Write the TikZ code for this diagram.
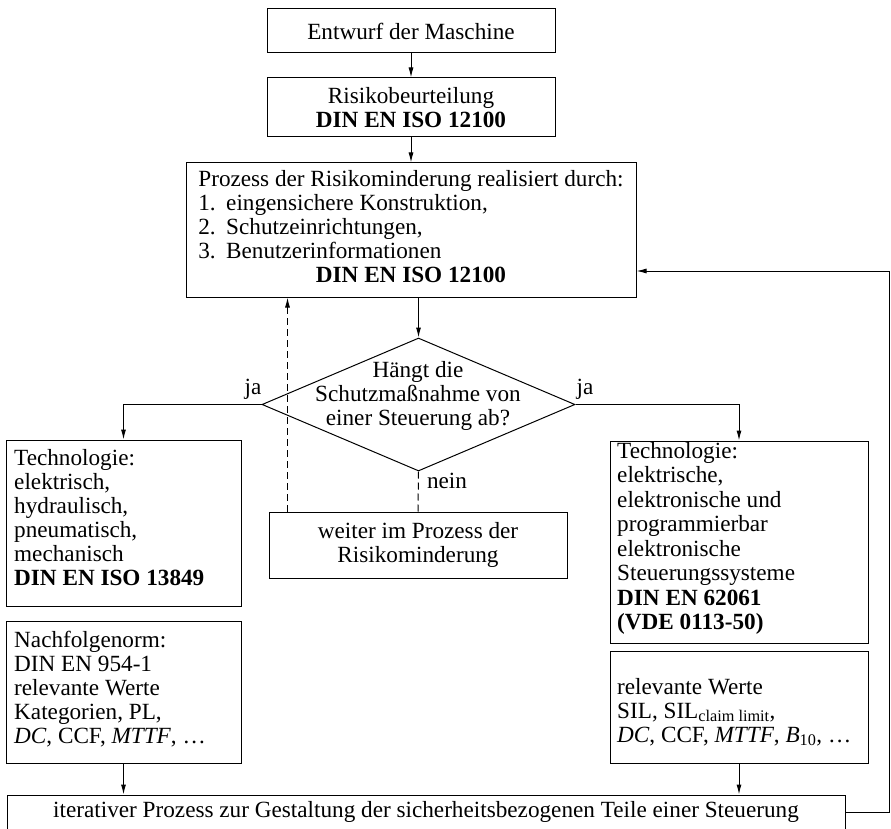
\documentclass[tikz,border=0pt]{standalone}
\usepackage{fontspec}
\setmainfont{Liberation Serif}
\usetikzlibrary{arrows.meta,shapes.geometric,calc}
\newcommand{\fsz}{\fontsize{23.2}{24}\selectfont}
\begin{document}
\begin{tikzpicture}[x=1pt,y=-1pt,
  box/.style={draw, line width=1pt, inner sep=0pt, font=\fsz, align=center},
  txt/.style={inner sep=0pt, font=\fsz, align=left},
  lbl/.style={inner sep=0pt, font=\fsz},
  arr/.style={-{Latex[length=10pt,width=5pt]}, line width=1pt},
  ln/.style={line width=1pt},
  dsh/.style={dash pattern=on 7pt off 4pt}]
\useasboundingbox (0,0) rectangle (891,829);

% boxes
\node[box, minimum width=288pt, minimum height=44pt] (E) at (411,31) {Entwurf der Maschine};
\node[box, minimum width=288pt, minimum height=59pt] (R) at (411,107.5) {Risikobeurteilung\\\textbf{DIN EN ISO 12100}};
\node[box, minimum width=450pt, minimum height=134pt] (P) at (411,230) {\begin{tabular}{@{}l@{}}Prozess der Risikominderung realisiert durch:\\1.\hspace{0.45em}eingensichere Konstruktion,\\2.\hspace{0.45em}Schutzeinrichtungen,\\3.\hspace{0.45em}Benutzerinformationen\\\multicolumn{1}{@{}c@{}}{\textbf{DIN EN ISO 12100}}\end{tabular}};
\node[draw, line width=1pt, diamond, minimum width=313pt, minimum height=133pt, inner sep=0pt] (D) at (418.5,404.5) {};
\node[txt, align=center] (Dt) at (418,396) {Hängt die\\Schutzmaßnahme von\\einer Steuerung ab?};
\node[box, minimum width=235pt, minimum height=166pt] (L1) at (123.5,523) {};
\node[txt, anchor=west] (L1t) at (14,517.5) {Technologie:\\elektrisch,\\hydraulisch,\\pneumatisch,\\mechanisch\\\textbf{DIN EN ISO 13849}};
\node[box, minimum width=298pt, minimum height=66pt] (W) at (418,545) {weiter im Prozess der\\Risikominderung};
\node[box, minimum width=258pt, minimum height=202pt] (R1) at (739,542) {};
\node[txt, anchor=west, font=\fontsize{23.2}{24.5}\selectfont] (R1t) at (617,538.5) {Technologie:\\elektrische,\\elektronische und\\programmierbar\\elektronische\\Steuerungssysteme\\\textbf{DIN EN 62061}\\\textbf{(VDE 0113-50)}};
\node[box, minimum width=235pt, minimum height=142pt] (L2) at (123.5,692) {};
\node[txt, anchor=west] (L2t) at (14,689.5) {Nachfolgenorm:\\DIN EN 954-1\\relevante Werte\\Kategorien, PL,\\\textit{DC}, CCF, \textit{MTTF}, …};
\node[box, minimum width=258pt, minimum height=112pt] (R2) at (739,707) {};
\node[txt, anchor=west] (R2t) at (617,712) {relevante Werte\\SIL, SIL\textsubscript{claim limit},\\\textit{DC}, CCF, \textit{MTTF}, \textit{B}\textsubscript{10}, …};
\node[box, minimum width=838pt, minimum height=34pt] (B) at (426,812) {iterativer Prozess zur Gestaltung der sicherheitsbezogenen Teile einer Steuerung};

% labels
\node[lbl, anchor=base] (ja1) at (253,394) {ja};
\node[lbl, anchor=base] (ja2) at (585,394) {ja};
\node[lbl, anchor=base] (nein) at (447,488) {nein};

% connectors
\draw[arr] (E.south) -- (R.north);
\draw[arr] (R.south) -- (P.north);
\draw[arr] (P.south -| D.north) -- (D.north);
\draw[arr] (D.west) -| (L1.north);
\draw[arr] (D.east) -| (R1.north);
\draw[ln, dsh] (D.south) -- (W.north);
\draw[arr, dsh] ([xshift=19pt]W.north west) -- ([xshift=19pt]W.north west |- P.south);
\draw[arr] (L2.south) -- (L2.south |- B.north);
\draw[arr] (R2.south) -- (R2.south |- B.north);
\coordinate (fb) at (889,271);
\draw[arr] (B.east) -| (fb) -- (fb -| P.east);
\end{tikzpicture}
\end{document}
